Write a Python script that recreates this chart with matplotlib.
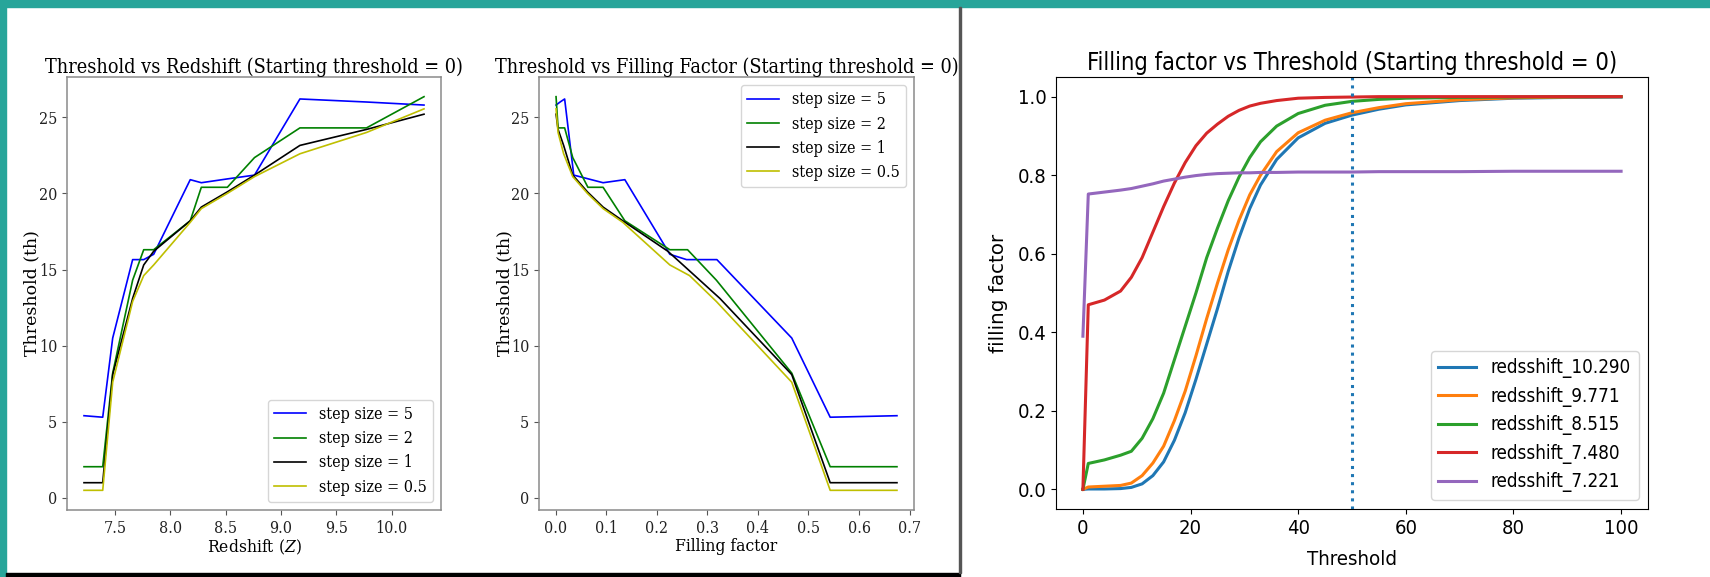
import matplotlib
matplotlib.use("Agg")
import matplotlib.pyplot as plt
from matplotlib.patches import Rectangle

# ----------------------------
# Data
# ----------------------------
redshift = [7.221, 7.39, 7.480, 7.66, 7.76, 7.85, 8.18, 8.28, 8.515, 8.76, 9.17, 9.771, 10.290]

th_step5 = [5.4, 5.3, 10.5, 15.65, 15.65, 16.0, 20.9, 20.7, 20.95, 21.2, 26.2, 26.0, 25.8]
th_step2 = [2.05, 2.05, 8.2, 14.3, 16.3, 16.3, 18.2, 20.4, 20.4, 22.35, 24.3, 24.3, 26.35]
th_step1 = [1.0, 1.0, 8.1, 13.1, 15.3, 16.2, 18.2, 19.1, 20.1, 21.2, 23.15, 24.2, 25.2]
th_step05 = [0.5, 0.5, 7.6, 12.9, 14.6, 15.3, 18.1, 19.0, 20.0, 21.1, 22.6, 24.0, 25.55]

ff_step5 = [0.675, 0.543, 0.467, 0.319, 0.259, 0.226, 0.137, 0.094, 0.065, 0.036, 0.018, 0.009, 0.001]
ff_step2 = [0.675, 0.543, 0.467, 0.318, 0.261, 0.226, 0.137, 0.094, 0.064, 0.034, 0.018, 0.005, 0.001]
ff_step1 = [0.675, 0.543, 0.467, 0.325, 0.252, 0.222, 0.133, 0.094, 0.063, 0.034, 0.016, 0.005, 0.001]
ff_step05 = [0.675, 0.543, 0.467, 0.318, 0.265, 0.226, 0.133, 0.094, 0.063, 0.034, 0.016, 0.005, 0.001]

step_labels = ["step size = 5", "step size = 2", "step size = 1", "step size = 0.5"]
step_colors = ["b", "g", "k", "y"]

threshold = [0, 1, 4, 7, 9, 11, 13, 15, 17, 19, 21, 23, 25, 27, 29, 31, 33, 36, 40, 45, 50, 55, 60, 70, 80, 90, 100]
ff_z10290 = [0.0, 0.001, 0.001, 0.002, 0.005, 0.014, 0.035, 0.07, 0.125, 0.195, 0.28, 0.37, 0.46, 0.555,
             0.64, 0.715, 0.775, 0.84, 0.895, 0.932, 0.953, 0.968, 0.979, 0.99, 0.996, 0.998, 0.999]
ff_z9771 = [0.0, 0.006, 0.008, 0.01, 0.016, 0.035, 0.067, 0.11, 0.175, 0.25, 0.34, 0.435, 0.525, 0.61,
            0.685, 0.75, 0.8, 0.86, 0.908, 0.94, 0.959, 0.972, 0.982, 0.992, 0.997, 0.999, 1.0]
ff_z8515 = [0.0, 0.066, 0.075, 0.087, 0.097, 0.13, 0.18, 0.245, 0.33, 0.415, 0.5, 0.59, 0.665, 0.735,
            0.795, 0.845, 0.885, 0.925, 0.957, 0.978, 0.988, 0.993, 0.996, 0.998, 0.999, 1.0, 1.0]
ff_z7480 = [0.0, 0.47, 0.482, 0.505, 0.54, 0.59, 0.655, 0.72, 0.78, 0.832, 0.875, 0.907, 0.93, 0.95,
            0.965, 0.976, 0.983, 0.99, 0.996, 0.998, 0.999, 1.0, 1.0, 1.0, 1.0, 1.0, 1.0]
ff_z7221 = [0.39, 0.752, 0.757, 0.762, 0.766, 0.772, 0.778, 0.785, 0.79, 0.795, 0.799, 0.802, 0.804, 0.805,
            0.806, 0.806, 0.807, 0.807, 0.808, 0.808, 0.808, 0.809, 0.809, 0.809, 0.81, 0.81, 0.81]
z_labels = ["redsshift_10.290", "redsshift_9.771", "redsshift_8.515", "redsshift_7.480", "redsshift_7.221"]

# ----------------------------
# Figure & panel layout (pixels)
# ----------------------------
W, H = 1710, 577
plt.rcParams["font.stretch"] = "condensed"
plt.rcParams["mathtext.fontset"] = "dejavuserif"

fig = plt.figure(figsize=(W / 100, H / 100), dpi=100)


def box(l, t, r, b):
    return [l / W, 1 - b / H, (r - l) / W, (b - t) / H]


# screenshot frame: teal border, black strip, divider
teal = "#27a59a"
fig.patches.append(Rectangle((0, 1 - 7 / H), 1, 7 / H, transform=fig.transFigure, color=teal))
fig.patches.append(Rectangle((0, 0), 6 / W, 1, transform=fig.transFigure, color=teal))
fig.patches.append(Rectangle((6 / W, 0), 954 / W, 4 / H, transform=fig.transFigure, color="black"))
fig.patches.append(Rectangle((959 / W, 4 / H), 1.5 / W, 1 - 11 / H, transform=fig.transFigure, color="#555555"))

ax1 = fig.add_axes(box(67, 77, 441, 510))
ax2 = fig.add_axes(box(539, 77, 914, 510))
ax3 = fig.add_axes(box(1056, 77, 1648, 509))

serif_leg = {"family": "DejaVu Serif", "size": 11.5, "stretch": "condensed"}

# ----------------------------
# Threshold vs Redshift
# ----------------------------
for th, c, lab in zip([th_step5, th_step2, th_step1, th_step05], step_colors, step_labels):
    ax1.plot(redshift, th, color=c, lw=1.2, label=lab)
ax1.set_title("Threshold vs Redshift (Starting threshold = 0)", fontsize=14.2, pad=3, family="DejaVu Serif")
ax1.set_xlabel("Redshift ($Z$)", fontsize=12.5, labelpad=1, family="DejaVu Serif")
ax1.set_ylabel("Threshold (th)", fontsize=12.5, family="DejaVu Serif", stretch="normal", va="center")
ax1.yaxis.set_label_coords((32 - 67) / 374, 0.5)
ax1.legend(loc="lower right", prop=serif_leg, labelspacing=0.45)

# ----------------------------
# Threshold vs Filling Factor
# ----------------------------
for ff, th, c, lab in zip([ff_step5, ff_step2, ff_step1, ff_step05],
                          [th_step5, th_step2, th_step1, th_step05], step_colors, step_labels):
    ax2.plot(ff, th, color=c, lw=1.2, label=lab)
ax2.set_title("Threshold vs Filling Factor (Starting threshold = 0)", fontsize=14.2, pad=3, family="DejaVu Serif")
ax2.set_xlabel("Filling factor", fontsize=12.5, labelpad=1, family="DejaVu Serif")
ax2.set_ylabel("Threshold (th)", fontsize=12.5, family="DejaVu Serif", stretch="normal", va="center")
ax2.yaxis.set_label_coords((505 - 539) / 375, 0.5)
ax2.legend(loc="upper right", prop=serif_leg, labelspacing=0.45)

for ax in (ax1, ax2):
    ax.set_yticks([0, 5, 10, 15, 20, 25])
    for s in ax.spines.values():
        s.set_color("#8a8a8a")
        s.set_linewidth(1.1)
    ax.tick_params(colors="#555555", labelcolor="#222222", labelsize=11.5)
    for t in ax.get_xticklabels() + ax.get_yticklabels():
        t.set_family("DejaVu Serif")
ax2.set_xticks([0.0, 0.1, 0.2, 0.3, 0.4, 0.5, 0.6, 0.7])

# ----------------------------
# Filling factor vs Threshold
# ----------------------------
for ff, lab in zip([ff_z10290, ff_z9771, ff_z8515, ff_z7480, ff_z7221], z_labels):
    ax3.plot(threshold, ff, lw=2.2, label=lab)
ax3.axvline(50, linestyle=":", lw=2.2, color="C0")
ax3.set_title("Filling factor vs Threshold (Starting threshold = 0)", fontsize=17, pad=5, family="DejaVu Sans")
ax3.set_xlabel("Threshold", fontsize=14.7, labelpad=9, family="DejaVu Sans")
ax3.set_ylabel("filling factor", fontsize=14.3, family="DejaVu Sans", stretch="normal", va="center")
ax3.yaxis.set_label_coords((998 - 1056) / 592, 0.5)
ax3.set_xticks([0, 20, 40, 60, 80, 100])
ax3.set_yticks([0.0, 0.2, 0.4, 0.6, 0.8, 1.0])
ax3.tick_params(labelsize=14.5)
ax3.legend(loc="lower right", fontsize=13.5, labelspacing=0.45)

fig.savefig("out.png", dpi=100)
